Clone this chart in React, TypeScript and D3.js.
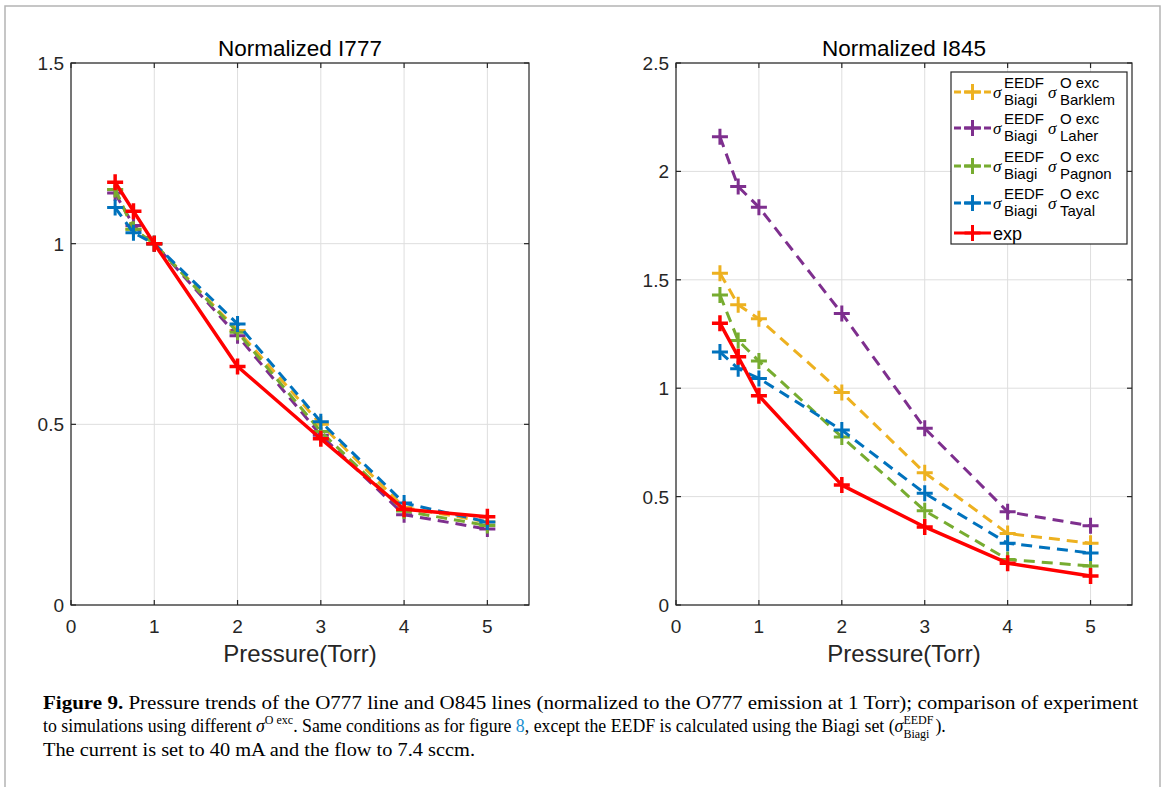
import React from 'react';
import * as d3 from 'd3';

// ---------- data ----------
const pressure = [0.53, 0.75, 1, 2, 3, 4, 5];
const xTicks = [0, 1, 2, 3, 4, 5];
const yTicksLeft = [0, 0.5, 1, 1.5];
const yTicksRight = [0, 0.5, 1, 1.5, 2, 2.5];

const seriesNames = ['Barklem', 'Laher', 'Pagnon', 'Tayal', 'exp'];
const seriesColors = ['#EDB120', '#7E2F8E', '#77AC30', '#0072BD', '#FF0000'];

const i777Barklem = [1.15, 1.04, 1.0, 0.76, 0.5, 0.27, 0.23];
const i777Laher = [1.14, 1.05, 1.0, 0.745, 0.47, 0.25, 0.21];
const i777Pagnon = [1.15, 1.04, 1.0, 0.755, 0.48, 0.26, 0.22];
const i777Tayal = [1.1, 1.03, 1.0, 0.778, 0.507, 0.282, 0.23];
const i777Exp = [1.17, 1.09, 1.0, 0.66, 0.46, 0.265, 0.244];

const i845Barklem = [1.53, 1.385, 1.32, 0.98, 0.61, 0.33, 0.285];
const i845Laher = [2.16, 1.93, 1.835, 1.345, 0.815, 0.43, 0.365];
const i845Pagnon = [1.43, 1.22, 1.125, 0.775, 0.435, 0.21, 0.18];
const i845Tayal = [1.167, 1.09, 1.045, 0.807, 0.515, 0.285, 0.24];
const i845Exp = [1.3, 1.145, 0.965, 0.553, 0.36, 0.193, 0.134];

const leftSeries = [i777Barklem, i777Laher, i777Pagnon, i777Tayal, i777Exp];
const rightSeries = [i845Barklem, i845Laher, i845Pagnon, i845Tayal, i845Exp];

const SANS = '"Liberation Sans", Arial, Helvetica, sans-serif';
const SERIF = '"Liberation Serif", "Times New Roman", serif';

type PanelProps = {
  left: number;
  right: number;
  top: number;
  bottom: number;
  title: string;
  yMax: number;
  yTicks: number[];
  data: number[][];
  legend?: boolean;
};

function Plus({ x, y, color, s = 8, w = 3 }: { x: number; y: number; color: string; s?: number; w?: number }) {
  return (
    <path
      d={`M${x - s},${y}H${x + s}M${x},${y - s}V${y + s}`}
      stroke={color}
      strokeWidth={w}
      fill="none"
    />
  );
}

function Panel({ left, right, top, bottom, title, yMax, yTicks, data, legend }: PanelProps) {
  const x = d3.scaleLinear().domain([0, 5.5]).range([left, right]);
  const y = d3.scaleLinear().domain([0, yMax]).range([bottom, top]);
  const line = d3
    .line<number>()
    .x((_, i) => x(pressure[i]))
    .y((d) => y(d));
  const axisColor = '#262626';
  const tickLen = 5;
  const cx = (left + right) / 2;
  return (
    <g>
      {/* grid */}
      {xTicks.map((t) => (
        <line key={'gx' + t} x1={x(t)} x2={x(t)} y1={top} y2={bottom} stroke="#dedede" strokeWidth={1} />
      ))}
      {yTicks.map((t) => (
        <line key={'gy' + t} x1={left} x2={right} y1={y(t)} y2={y(t)} stroke="#dedede" strokeWidth={1} />
      ))}
      {/* series */}
      {data.map((vals, si) => {
        const isExp = seriesNames[si] === 'exp';
        return (
          <g key={'s' + si}>
            <path
              d={line(vals) || ''}
              fill="none"
              stroke={seriesColors[si]}
              strokeWidth={isExp ? 3.5 : 3}
              strokeDasharray={isExp ? undefined : '11 7'}
              strokeLinejoin="round"
            />
            {vals.map((v, i) => (
              <Plus key={i} x={x(pressure[i])} y={y(v)} color={seriesColors[si]} w={isExp ? 3.5 : 3} />
            ))}
          </g>
        );
      })}
      {/* box */}
      <rect x={left} y={top} width={right - left} height={bottom - top} fill="none" stroke={axisColor} strokeWidth={1.2} />
      {/* ticks */}
      {xTicks.map((t) => (
        <g key={'tx' + t}>
          <line x1={x(t)} x2={x(t)} y1={bottom} y2={bottom - tickLen} stroke={axisColor} strokeWidth={1.2} />
          <line x1={x(t)} x2={x(t)} y1={top} y2={top + tickLen} stroke={axisColor} strokeWidth={1.2} />
          <text x={x(t)} y={bottom + 28} textAnchor="middle" fontFamily={SANS} fontSize={19} fill={axisColor}>
            {t}
          </text>
        </g>
      ))}
      {yTicks.map((t) => (
        <g key={'ty' + t}>
          <line x1={left} x2={left + tickLen} y1={y(t)} y2={y(t)} stroke={axisColor} strokeWidth={1.2} />
          <line x1={right} x2={right - tickLen} y1={y(t)} y2={y(t)} stroke={axisColor} strokeWidth={1.2} />
          <text x={left - 7} y={y(t) + 7} textAnchor="end" fontFamily={SANS} fontSize={19} fill={axisColor}>
            {String(t)}
          </text>
        </g>
      ))}
      <text x={cx} y={top - 7} textAnchor="middle" fontFamily={SANS} fontSize={22.5} fill="#000">
        {title}
      </text>
      <text x={cx} y={bottom + 57} textAnchor="middle" fontFamily={SANS} fontSize={24} fill={axisColor}>
        Pressure(Torr)
      </text>
      {legend && <Legend right={right} top={top} />}
    </g>
  );
}

function Legend({ right, top }: { right: number; top: number }) {
  const bx = 951;
  const by = top + 9;
  const bw = right - 5 - bx;
  const bh = 172;
  const rows = [92, 128, 166, 203, 233];
  return (
    <g fontFamily={SANS}>
      <rect x={bx} y={by} width={bw} height={bh} fill="#fff" stroke="#262626" strokeWidth={1.2} />
      {seriesNames.map((name, i) => {
        const ry = rows[i];
        const color = seriesColors[i];
        const isExp = name === 'exp';
        return (
          <g key={name}>
            <line x1={954} x2={991} y1={ry} y2={ry} stroke={color} strokeWidth={3} strokeDasharray={isExp ? undefined : '7 3'} />
            <Plus x={972.5} y={ry} color={color} s={8} w={3} />
            {isExp ? (
              <text x={993} y={ry + 7} fontSize={18} fill="#000">
                exp
              </text>
            ) : (
              <g>
                <text x={993} y={ry + 6} fontSize={17} fontStyle="italic" fontFamily={SERIF} fill="#000">
                  σ
                </text>
                <text x={1004} y={ry - 4} fontSize={15} fill="#000">
                  EEDF
                </text>
                <text x={1004} y={ry + 13} fontSize={15} fill="#000">
                  Biagi
                </text>
                <text x={1048} y={ry + 6} fontSize={17} fontStyle="italic" fontFamily={SERIF} fill="#000">
                  σ
                </text>
                <text x={1060} y={ry - 4} fontSize={15} fill="#000">
                  O exc
                </text>
                <text x={1060} y={ry + 13} fontSize={15} fill="#000">
                  {name}
                </text>
              </g>
            )}
          </g>
        );
      })}
    </g>
  );
}

function Caption() {
  const fs = 18.5;
  return (
    <g fontFamily={SERIF} fontSize={fs} fill="#000">
      <text x={43} y={709} textLength={1095} lengthAdjust="spacingAndGlyphs">
        <tspan fontWeight="bold">Figure 9.</tspan>
        <tspan> Pressure trends of the O777 line and O845 lines (normalized to the O777 emission at 1 Torr); comparison of experiment</tspan>
      </text>
      <text x={43} y={732} fontSize={17.8}>
        <tspan>to simulations using different </tspan>
        <tspan fontStyle="italic">σ</tspan>
        <tspan fontSize={12} dy={-8}>O exc</tspan>
        <tspan dy={8}>. Same conditions as for figure </tspan>
        <tspan fill="#1a8fd0">8</tspan>
        <tspan>, except the EEDF is calculated using the Biagi set (</tspan>
        <tspan fontStyle="italic">σ</tspan>
        <tspan fontSize={12} dy={-8}>EEDF</tspan>
      </text>
      <text x={43} y={756} textLength={432} lengthAdjust="spacingAndGlyphs">
        The current is set to 40 mA and the flow to 7.4 sccm.
      </text>
      <CaptionTail />
    </g>
  );
}

// subscript and closing of caption line 2, placed after the measured superscript
function CaptionTail() {
  const ref = React.useRef<SVGGElement>(null);
  React.useEffect(() => {
    const g = ref.current;
    if (!g) return;
    const parent = g.parentNode as SVGGElement;
    const line2 = parent.querySelectorAll('text')[1] as SVGTextElement;
    const n = line2.getNumberOfChars();
    const endX = line2.getEndPositionOfChar(n - 1).x;
    const supStart = line2.getStartPositionOfChar(n - 4).x;
    const sub = g.querySelector('.sub') as SVGTextElement;
    const close = g.querySelector('.close') as SVGTextElement;
    sub.setAttribute('x', String(supStart));
    const subEnd = supStart + sub.getComputedTextLength();
    close.setAttribute('x', String(Math.max(endX, subEnd) + 2));
  }, []);
  return (
    <g ref={ref}>
      <text className="sub" x={880} y={738} fontSize={12}>
        Biagi
      </text>
      <text className="close" x={920} y={732} fontSize={17.8}>
        ).
      </text>
    </g>
  );
}

export default function App() {
  return (
    <svg
      width={1165}
      height={787}
      viewBox="0 0 1165 787"
      style={{ position: 'absolute', left: 0, top: 0, background: '#fff' }}
    >
      <rect x={0} y={0} width={1165} height={787} fill="#fff" />
      <path d="M5,790V6H1160V790" fill="none" stroke="#b4b4b4" strokeWidth={1.5} />
      <Panel left={71} right={529} top={63} bottom={605} title="Normalized I777" yMax={1.5} yTicks={yTicksLeft} data={leftSeries} />
      <Panel left={676} right={1132} top={63} bottom={605} title="Normalized I845" yMax={2.5} yTicks={yTicksRight} data={rightSeries} legend />
      <Caption />
    </svg>
  );
}
